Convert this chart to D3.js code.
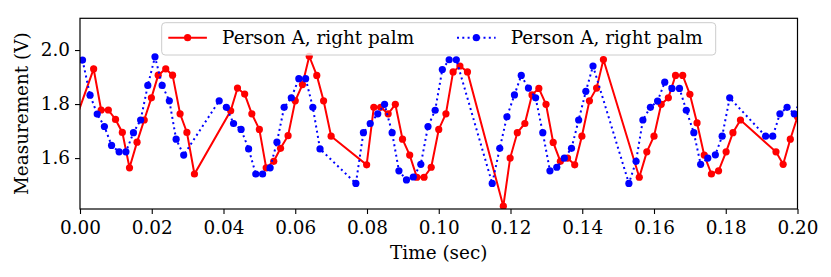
<!DOCTYPE html>
<html>
<head>
<meta charset="utf-8">
<script src="https://cdn.jsdelivr.net/npm/d3@7"></script>
<style>
	body { margin: 0; background: #fff; }
	text { font-family: "DejaVu Serif", serif; fill: #000; }
	.axis path, .axis line { stroke: #000; stroke-width: 1.1; }
</style>
</head>
<body>
<div id="viz-container"></div>
<script>
var redTime = [-0.0022, 0.0038, 0.0059, 0.0079, 0.0099, 0.0118, 0.0138, 0.0159, 0.0179, 0.0199,
	0.0218, 0.0239, 0.0258, 0.0279, 0.0298, 0.0319, 0.0420, 0.0439, 0.0459, 0.0479,
	0.0500, 0.0519, 0.0540, 0.0559, 0.0580, 0.0600, 0.0620, 0.0639, 0.0660, 0.0679,
	0.0700, 0.0799, 0.0819, 0.0838, 0.0859, 0.0879, 0.0899, 0.0919, 0.0939, 0.0959,
	0.0979, 0.1000, 0.1020, 0.1040, 0.1059, 0.1080, 0.1180, 0.1199, 0.1219, 0.1240,
	0.1260, 0.1279, 0.1299, 0.1319, 0.1339, 0.1359, 0.1379, 0.1399, 0.1420, 0.1440,
	0.1459, 0.1559, 0.1580, 0.1600, 0.1620, 0.1640, 0.1660, 0.1680, 0.1700, 0.1720,
	0.1740, 0.1760, 0.1780, 0.1801, 0.1820, 0.1841, 0.1940, 0.1960, 0.1980, 0.2000];
var redValue = [1.706, 1.930, 1.778, 1.778, 1.743, 1.695, 1.564, 1.659, 1.741, 1.823,
	1.907, 1.930, 1.907, 1.764, 1.695, 1.541, 1.775, 1.859, 1.837, 1.764,
	1.706, 1.564, 1.588, 1.636, 1.683, 1.812, 1.872, 1.977, 1.906, 1.812,
	1.681, 1.575, 1.788, 1.788, 1.764, 1.799, 1.670, 1.611, 1.529, 1.529,
	1.566, 1.706, 1.764, 1.919, 1.941, 1.919, 1.422, 1.600, 1.694, 1.728,
	1.834, 1.858, 1.799, 1.658, 1.588, 1.600, 1.575, 1.681, 1.812, 1.859,
	1.965, 1.529, 1.623, 1.681, 1.799, 1.823, 1.906, 1.906, 1.836, 1.730,
	1.611, 1.541, 1.553, 1.623, 1.694, 1.741, 1.623, 1.577, 1.670, 1.753];

var blueTime = [0.0007, 0.0028, 0.0048, 0.0068, 0.0088, 0.0109, 0.0128, 0.0149, 0.0169, 0.0189,
	0.0209, 0.0229, 0.0249, 0.0268, 0.0289, 0.0388, 0.0408, 0.0428, 0.0449, 0.0470,
	0.0490, 0.0509, 0.0530, 0.0549, 0.0569, 0.0589, 0.0610, 0.0629, 0.0649, 0.0669,
	0.0769, 0.0790, 0.0809, 0.0830, 0.0849, 0.0870, 0.0889, 0.0910, 0.0929, 0.0950,
	0.0970, 0.0990, 0.1010, 0.1029, 0.1049, 0.1149, 0.1170, 0.1190, 0.1211, 0.1230,
	0.1250, 0.1270, 0.1290, 0.1310, 0.1329, 0.1350, 0.1370, 0.1390, 0.1410, 0.1430,
	0.1530, 0.1550, 0.1569, 0.1590, 0.1610, 0.1630, 0.1650, 0.1671, 0.1690, 0.1711,
	0.1730, 0.1750, 0.1771, 0.1790, 0.1811, 0.1911, 0.1931, 0.1951, 0.1971, 0.1991,
	0.2011];
var blueValue = [1.963, 1.833, 1.763, 1.717, 1.647, 1.623, 1.623, 1.694, 1.741, 1.869,
	1.975, 1.869, 1.812, 1.670, 1.611, 1.812, 1.788, 1.728, 1.706, 1.634,
	1.541, 1.541, 1.564, 1.659, 1.788, 1.823, 1.894, 1.894, 1.788, 1.634,
	1.506, 1.694, 1.728, 1.764, 1.799, 1.694, 1.553, 1.519, 1.530, 1.577,
	1.717, 1.777, 1.928, 1.964, 1.964, 1.506, 1.636, 1.753, 1.834, 1.906,
	1.859, 1.823, 1.694, 1.553, 1.566, 1.600, 1.636, 1.741, 1.847, 1.941,
	1.506, 1.588, 1.741, 1.788, 1.811, 1.881, 1.858, 1.858, 1.777, 1.694,
	1.577, 1.600, 1.612, 1.681, 1.823, 1.681, 1.681, 1.764, 1.788, 1.764,
	1.82];

var xTicks = [0, 0.02, 0.04, 0.06, 0.08, 0.10, 0.12, 0.14, 0.16, 0.18, 0.20];
var yTicks = [1.6, 1.8, 2.0];
var seriesNames = ['Person A, right palm', 'Person A, right palm'];

var FONT = 18.4;

function init() {
	var svg = d3.select('#viz-container').append('svg')
		.attr('width', 831)
		.attr('height', 277);

	var margin = {top: 18.3, right: 33.5, bottom: 68, left: 80},
	    width = 831 - margin.left - margin.right,
	    height = 277 - margin.top - margin.bottom;

	var x = d3.scaleLinear().domain([0, 0.2]).range([0, width]);
	var y = d3.scaleLinear().domain([1.4115, 2.1175]).range([height, 0]);

	var g = svg.append('g').attr('transform', 'translate(' + margin.left + ',' + margin.top + ')');

	g.append('clipPath').attr('id', 'clip')
		.append('rect').attr('width', width).attr('height', height);

	var red = redTime.map(function(t, i) { return {t: t, v: redValue[i]}; });
	var blue = blueTime.map(function(t, i) { return {t: t, v: blueValue[i]}; });

	var line = d3.line()
		.x(function(d) { return x(d.t); })
		.y(function(d) { return y(d.v); });

	var plot = g.append('g').attr('clip-path', 'url(#clip)');

	plot.append('path').datum(red)
		.attr('d', line)
		.attr('fill', 'none')
		.attr('stroke', '#ff0000')
		.attr('stroke-width', 2);
	plot.append('g').selectAll('circle')
		.data(red)
		.enter().append('circle')
		.attr('cx', function(d) { return x(d.t); })
		.attr('cy', function(d) { return y(d.v); })
		.attr('r', 3.6)
		.attr('fill', '#ff0000');

	plot.append('path').datum(blue)
		.attr('d', line)
		.attr('fill', 'none')
		.attr('stroke', '#0000ff')
		.attr('stroke-width', 2)
		.attr('stroke-dasharray', '2,3.3');
	plot.append('g').selectAll('circle')
		.data(blue)
		.enter().append('circle')
		.attr('cx', function(d) { return x(d.t); })
		.attr('cy', function(d) { return y(d.v); })
		.attr('r', 3.6)
		.attr('fill', '#0000ff');

	// axes
	var xAxis = g.append('g').attr('class', 'axis')
		.attr('transform', 'translate(0,' + height + ')')
		.call(d3.axisBottom(x).tickValues(xTicks).tickFormat(d3.format('.2f')).tickSize(5).tickPadding(7).tickSizeOuter(0));
	var yAxis = g.append('g').attr('class', 'axis')
		.call(d3.axisLeft(y).tickValues(yTicks).tickFormat(d3.format('.1f')).tickSize(5).tickPadding(5).tickSizeOuter(0));
	g.selectAll('.axis text').style('font-size', FONT + 'px').style('font-family', '"DejaVu Serif", serif');
	g.selectAll('.axis .domain').remove();

	// frame
	g.append('rect')
		.attr('width', width).attr('height', height)
		.attr('fill', 'none').attr('stroke', '#000').attr('stroke-width', 1.2);

	// axis labels
	g.append('text')
		.attr('x', width / 2).attr('y', 240.5 - margin.top + 18.7)
		.attr('text-anchor', 'middle')
		.style('font-size', FONT + 'px')
		.text('Time (sec)');
	g.append('text')
		.attr('transform', 'translate(' + (27.5 - margin.left) + ',' + (height / 2) + ') rotate(-90)')
		.attr('text-anchor', 'middle')
		.style('font-size', FONT + 'px')
		.text('Measurement (V)');

	// legend
	var leg = svg.append('g');
	leg.append('rect')
		.attr('x', 161.7).attr('y', 22.7)
		.attr('width', 554).attr('height', 32.3)
		.attr('rx', 3.5)
		.attr('fill', '#fff').attr('fill-opacity', 0.8)
		.attr('stroke', '#cccccc').attr('stroke-width', 1);

	var items = [
		{name: seriesNames[0], color: '#ff0000', dash: null, x0: 168.3},
		{name: seriesNames[1], color: '#0000ff', dash: '2,3.3', x0: 457}
	];
	var item = leg.selectAll('.item').data(items).enter().append('g')
		.attr('class', 'item')
		.attr('transform', function(d) { return 'translate(' + d.x0 + ',37.7)'; });
	item.append('line')
		.attr('x1', 0).attr('x2', 38.6)
		.attr('stroke', function(d) { return d.color; })
		.attr('stroke-width', 2)
		.attr('stroke-dasharray', function(d) { return d.dash; });
	item.append('circle')
		.attr('cx', 19.3).attr('r', 3.6)
		.attr('fill', function(d) { return d.color; });
	item.append('text')
		.attr('x', 53.8).attr('y', 5.8)
		.style('font-size', FONT + 'px')
		.text(function(d) { return d.name; });
}

init();
</script>
</body>
</html>
